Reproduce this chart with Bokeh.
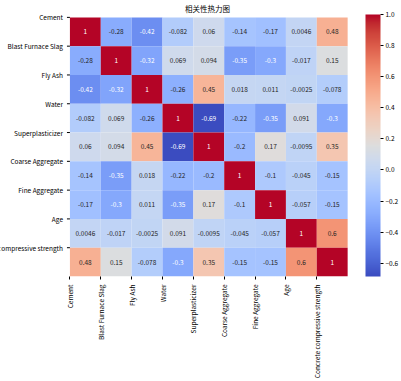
import numpy as np
from bokeh.plotting import figure
from bokeh.models import (Range1d, FixedTicker, ColorBar, LinearColorMapper,
                          ColumnDataSource)
from bokeh.embed import file_html
from bokeh.resources import INLINE
from bokeh.core.properties import value

# ---------------- data ----------------
variables = ["Cement", "Blast Furnace Slag", "Fly Ash", "Water", "Superplasticizer",
             "Coarse Aggregate", "Fine Aggregate", "Age", "Concrete compressive strength"]

cement           = [1, -0.28, -0.42, -0.082, 0.06, -0.14, -0.17, 0.0046, 0.48]
slag             = [-0.28, 1, -0.32, 0.069, 0.094, -0.35, -0.3, -0.017, 0.15]
fly_ash          = [-0.42, -0.32, 1, -0.26, 0.45, 0.018, 0.011, -0.0025, -0.078]
water            = [-0.082, 0.069, -0.26, 1, -0.685, -0.22, -0.35, 0.091, -0.3]
superplasticizer = [0.06, 0.094, 0.45, -0.685, 1, -0.2, 0.17, -0.0095, 0.35]
coarse_agg       = [-0.14, -0.35, 0.018, -0.22, -0.2, 1, -0.1, -0.045, -0.15]
fine_agg         = [-0.17, -0.3, 0.011, -0.35, 0.17, -0.1, 1, -0.057, -0.15]
age              = [0.0046, -0.017, -0.0025, 0.091, -0.0095, -0.045, -0.057, 1, 0.6]
strength         = [0.48, 0.15, -0.078, -0.3, 0.35, -0.15, -0.15, 0.6, 1]

cbar_ticks = [-0.6, -0.4, -0.2, 0.0, 0.2, 0.4, 0.6, 0.8, 1.0]
title_text = "相关性热力图"

corr = np.array([cement, slag, fly_ash, water, superplasticizer,
                 coarse_agg, fine_agg, age, strength], dtype=float)
n = len(variables)

# ---------------- coolwarm palette ----------------
cw_anchors = [
    (59, 76, 192), (68, 90, 204), (77, 104, 215), (87, 117, 225), (98, 130, 234),
    (108, 142, 241), (119, 154, 247), (130, 165, 251), (141, 176, 254), (152, 185, 255),
    (163, 194, 255), (174, 201, 253), (184, 208, 249), (194, 213, 244), (204, 217, 238),
    (213, 219, 230), (221, 221, 221), (229, 216, 209), (236, 211, 197), (241, 204, 185),
    (245, 196, 173), (247, 187, 160), (247, 177, 148), (247, 166, 135), (244, 154, 123),
    (241, 141, 111), (236, 127, 99), (229, 112, 88), (222, 96, 77), (213, 80, 66),
    (203, 62, 56), (192, 40, 47), (180, 4, 38)]
anc = np.array(cw_anchors, dtype=float)
pos = np.linspace(0, 1, len(anc))
t = np.linspace(0, 1, 256)
rgb = np.stack([np.interp(t, pos, anc[:, k]) for k in range(3)], axis=1)
palette = ["#%02x%02x%02x" % tuple(int(round(c)) for c in row) for row in rgb]

low, high = float(corr.min()), float(corr.max())
mapper = LinearColorMapper(palette=palette, low=low, high=high)

def lum(rgbrow):
    c = np.array(rgbrow) / 255.0
    c = np.where(c <= 0.03928, c / 12.92, ((c + 0.055) / 1.055) ** 2.4)
    return 0.2126 * c[0] + 0.7152 * c[1] + 0.0722 * c[2]

xs, ys, vals, texts, tcolors = [], [], [], [], []
for i in range(n):
    for j in range(n):
        v = corr[i, j]
        xs.append(j + 0.5)
        ys.append(i + 0.5)
        vals.append(v)
        texts.append(format(v, ".2g"))
        idx = int(np.floor((v - low) / (high - low) * 256))
        idx = min(max(idx, 0), 255)
        tcolors.append("#262626" if lum(rgb[idx]) > 0.408 else "#ffffff")

src = ColumnDataSource(dict(x=xs, y=ys, v=vals, t=texts, tc=tcolors))

FONT = "Noto Sans CJK SC"

# layout (pixels)
W, H = 401, 381
LEFT_LABEL_PX = 70      # room for the row labels inside the frame
GAP_PX = 18             # blank gap between heatmap and colour bar
RIGHT_BORDER = 33
BOTTOM_BORDER = 98
TITLE_PX = 10
TOP_PAD_PX = 3
cell_px = (W - RIGHT_BORDER - LEFT_LABEL_PX - GAP_PX) / n
x_start = -LEFT_LABEL_PX / cell_px
x_end = n + GAP_PX / cell_px
tick_len = 3 / cell_px
label_gap = 7 / cell_px
cell_py = (H - BOTTOM_BORDER - TITLE_PX - TOP_PAD_PX) / n
y_top = -TOP_PAD_PX / cell_py

p = figure(width=W, height=H, x_range=Range1d(x_start, x_end), y_range=Range1d(n, y_top),
           output_backend="svg", toolbar_location=None,
           min_border_left=0, min_border_right=RIGHT_BORDER, min_border_top=0,
           min_border_bottom=BOTTOM_BORDER)
p.outline_line_color = None
p.grid.visible = False
p.background_fill_color = "white"
p.yaxis.visible = False

title_w = len(title_text) * 7.5
p.title.text = title_text
p.title.align = "left"
p.title.offset = LEFT_LABEL_PX + n * cell_px / 2 - 3 - title_w / 2
p.title.text_font = FONT
p.title.text_font_size = "7.5px"
p.title.text_font_style = "normal"
p.title.text_color = "black"
p.title.standoff = 1

p.rect(x="x", y="y", width=1, height=1, source=src,
       fill_color={"field": "v", "transform": mapper}, line_color=None)
p.text(x="x", y="y", text="t", source=src, text_color="tc",
       text_align="center", text_baseline="middle",
       text_font=value(FONT), text_font_size="6.5px")

# row labels and their ticks (left of the heatmap)
rows = list(range(n))
p.segment(x0=[-tick_len] * n, x1=[0] * n, y0=rows, y1=rows, line_color="black", line_width=1)
p.text(x=[-label_gap] * n, y=rows, text=variables, text_align="right",
       text_baseline="middle", text_color="black",
       text_font=value(FONT), text_font_size="6.5px")

# x axis
p.xaxis.ticker = FixedTicker(ticks=list(range(n)))
p.xaxis.major_label_overrides = {i: variables[i] for i in range(n)}
p.xaxis.major_label_orientation = np.pi / 2
p.xaxis.major_label_text_font = FONT
p.xaxis.major_label_text_font_size = "6.5px"
p.xaxis.major_label_text_color = "black"
p.xaxis.major_label_standoff = 5
p.xaxis.axis_line_color = None
p.xaxis.major_tick_out = 3
p.xaxis.major_tick_in = 0
p.xaxis.minor_tick_line_color = None
p.xaxis.major_tick_line_color = "black"

cb = ColorBar(color_mapper=mapper, ticker=FixedTicker(ticks=cbar_ticks),
              major_label_overrides={tk: ("%.1f" % tk).replace("-", "\u2212") for tk in cbar_ticks},
              width=15, padding=0, margin=0, label_standoff=2,
              major_tick_out=3, major_tick_in=0, major_tick_line_color="black",
              minor_tick_line_color=None, bar_line_color=None, border_line_color=None,
              background_fill_alpha=0,
              major_label_text_font=FONT, major_label_text_font_size="6.5px",
              major_label_text_color="black")
p.add_layout(cb, "right")

open("out.html", "w").write(file_html(p, INLINE))
